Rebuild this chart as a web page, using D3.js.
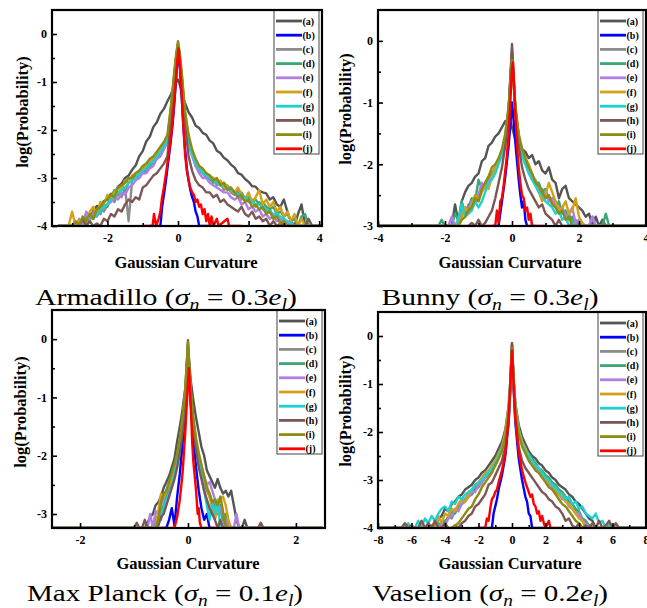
<!DOCTYPE html>
<html>
<head>
<meta charset="utf-8">
<script src="https://cdn.jsdelivr.net/npm/d3@7"></script>
<style>
body { margin: 0; background: #fff; }
svg { display: block; }
</style>
</head>
<body>
<div id="chart"></div>
<script>
const width = 647;
const height = 608;

// Series names and colours (a .. j)
const seriesKeys = ["(a)", "(b)", "(c)", "(d)", "(e)", "(f)", "(g)", "(h)", "(i)", "(j)"];
const seriesColors = ["#545454", "#0000ff", "#8c8c8c", "#3aa872", "#b07ee6", "#d4a017", "#1fd0d0", "#7d5656", "#8c8c12", "#ff0000"];

const xLabel = "Gaussian Curvature";
const yLabel = "log(Probability)";

// ---------- Armadillo ----------
const armXTicks = [-2, 0, 2, 4];
const armXMinor = [-3, -1, 1, 3];
const armYTicks = [-4, -3, -2, -1, 0];
const armYMinor = [-3.5, -2.5, -1.5, -0.5];
const armCaption = [["Armadillo (", ""], ["σ", "i"], ["n", "s"], [" = 0.3", ""], ["e", "i"], ["l", "s"], [")", ""]];

const armX = [
  -3.4, -3.1, -3.0, -2.9, -2.8, -2.7, -2.6, -2.5, -2.4, -2.3,
  -2.2, -2.1, -2.0, -1.9, -1.8, -1.7, -1.6, -1.5, -1.4, -1.3,
  -1.2, -1.1, -1.0, -0.9, -0.8, -0.7, -0.6, -0.5, -0.4, -0.3,
  -0.2, -0.1, -0.05, 0, 0.05, 0.1, 0.2, 0.3, 0.4, 0.5,
  0.6, 0.7, 0.8, 0.9, 1.0, 1.1, 1.2, 1.3, 1.4, 1.5,
  1.6, 1.7, 1.8, 1.9, 2.0, 2.1, 2.2, 2.3, 2.4, 2.5,
  2.6, 2.7, 2.8, 2.9, 3.0, 3.1, 3.2, 3.3, 3.4, 3.5,
  3.6, 3.7, 3.8, 4.1];
const armA = [
  -4, -4, -4, -4, -4, -4, -3.8, -3.85, -3.68, -3.58,
  -3.6, -3.48, -3.44, -3.33, -3.32, -3.18, -3.12, -3.0, -2.95, -2.83,
  -2.74, -2.55, -2.44, -2.24, -2.14, -1.94, -1.84, -1.66, -1.56, -1.4,
  -1.26, -1.07, -1.0, -0.95, -1.05, -1.22, -1.44, -1.63, -1.74, -1.91,
  -1.96, -2.06, -2.1, -2.22, -2.28, -2.43, -2.48, -2.58, -2.63, -2.72,
  -2.78, -2.9, -2.93, -3.02, -3.08, -3.17, -3.18, -3.27, -3.3, -3.32,
  -3.45, -3.4, -3.55, -3.6, -3.45, -3.7, -3.9, -4, -3.75, -3.55,
  -4, -4, -4, -4];
const armB = [[-0.8, -4], [-0.5, -4], [-0.45, -3.6], [-0.4, -3.35], [-0.35, -3.1], [-0.3, -2.8], [-0.25, -2.5],
  [-0.2, -2.2], [-0.15, -1.85], [-0.1, -1.4], [-0.05, -0.9], [0, -0.45], [0.02, -0.35], [0.05, -0.65], [0.1, -1.25],
  [0.15, -1.9], [0.2, -2.4], [0.25, -2.8], [0.3, -3.05], [0.35, -3.25], [0.4, -3.4], [0.45, -3.5], [0.5, -3.7],
  [0.55, -3.8], [0.6, -4], [1.0, -4]];
const armC = [
  -4, -4, -4, -4, -3.9, -4, -3.75, -3.9, -3.7, -3.8,
  -3.6, -3.7, -3.55, -3.4, -3.5, -3.3, -3.4, -3.2, -3.9, -3.05,
  -2.95, -3.0, -2.85, -2.85, -2.7, -2.7, -2.55, -2.5, -2.3, -2.25,
  -1.65, -0.85, -0.5, -0.25, -0.55, -0.9, -1.75, -2.25, -2.5, -2.75,
  -2.85, -2.9, -3.0, -3.05, -3.0, -3.15, -3.1, -3.25, -3.2, -3.3,
  -3.35, -3.25, -3.45, -3.4, -3.5, -3.45, -3.6, -3.5, -3.65, -3.7,
  -3.65, -3.8, -3.75, -3.9, -3.85, -4, -3.9, -4, -4, -4,
  -4, -4, -4, -4];
const armD = [
  -4, -4, -4, -4, -4, -3.9, -4, -3.8, -3.85, -3.7,
  -3.75, -3.55, -3.6, -3.4, -3.25, -3.35, -3.2, -3.25, -3.1, -3.05,
  -3.0, -2.9, -2.9, -2.8, -2.75, -2.65, -2.6, -2.45, -2.4, -2.2,
  -1.6, -0.8, -0.5, -0.22, -0.5, -0.85, -1.7, -2.2, -2.45, -2.65,
  -2.8, -2.85, -2.95, -3.0, -3.1, -3.05, -3.15, -3.1, -3.2, -3.2,
  -3.3, -3.35, -3.3, -3.45, -3.4, -3.5, -3.45, -3.55, -3.5, -3.6,
  -3.65, -3.6, -3.75, -3.7, -3.8, -3.75, -3.9, -3.85, -4, -3.8,
  -3.75, -4, -4, -4];
const armE = [
  -4, -4, -4, -4, -3.85, -4, -3.7, -3.85, -3.75, -3.8,
  -3.7, -3.6, -3.55, -3.5, -3.4, -3.45, -3.3, -3.35, -3.2, -3.15,
  -3.05, -3.0, -2.9, -2.9, -2.8, -2.75, -2.6, -2.55, -2.4, -2.25,
  -1.65, -0.85, -0.5, -0.25, -0.5, -0.9, -1.75, -2.3, -2.55, -2.75,
  -2.9, -3.0, -3.0, -3.1, -3.15, -3.2, -3.25, -3.3, -3.3, -3.4,
  -3.45, -3.4, -3.55, -3.5, -3.65, -3.6, -3.7, -3.65, -3.8, -3.75,
  -3.85, -3.8, -3.9, -3.85, -4, -3.9, -4, -4, -4, -4,
  -4, -4, -4, -4];
const armF = [
  -4, -4, -3.7, -4, -3.9, -3.85, -4, -3.7, -3.6, -3.75,
  -3.5, -3.55, -3.35, -3.45, -3.3, -3.2, -3.25, -3.05, -3.1, -2.95,
  -2.9, -2.85, -2.8, -2.75, -2.65, -2.6, -2.5, -2.4, -2.3, -2.15,
  -1.55, -0.8, -0.45, -0.2, -0.45, -0.8, -1.65, -2.15, -2.45, -2.65,
  -2.75, -2.85, -2.9, -2.95, -3.0, -3.1, -3.05, -3.2, -3.15, -3.25,
  -3.3, -3.2, -3.35, -3.45, -3.3, -3.5, -3.4, -3.25, -3.55, -3.45,
  -3.6, -3.5, -3.7, -3.6, -3.8, -3.7, -3.9, -3.75, -4, -3.85,
  -4, -4, -4, -4];
const armG = [
  -4, -4, -4, -4, -4, -4, -3.9, -3.8, -3.85, -3.75,
  -3.7, -3.6, -3.55, -3.45, -3.4, -3.3, -3.25, -3.2, -3.1, -3.05,
  -3.0, -2.9, -2.85, -2.8, -2.7, -2.65, -2.55, -2.45, -2.35, -2.2,
  -1.6, -0.8, -0.5, -0.22, -0.5, -0.85, -1.7, -2.2, -2.5, -2.7,
  -2.8, -2.9, -2.95, -3.0, -3.05, -3.1, -3.15, -3.15, -3.2, -3.25,
  -3.3, -3.35, -3.35, -3.4, -3.45, -3.5, -3.55, -3.55, -3.6, -3.65,
  -3.7, -3.75, -3.75, -3.8, -3.85, -3.9, -3.95, -4, -4, -4,
  -4, -4, -4, -4];
const armH = [
  -4, -4, -4, -4, -4, -3.85, -4, -3.9, -4, -3.95,
  -4, -3.85, -3.9, -3.75, -3.8, -3.65, -3.7, -3.55, -3.45, -3.5,
  -3.4, -3.45, -3.2, -3.15, -3.05, -2.95, -2.9, -2.8, -2.7, -2.55,
  -1.75, -0.85, -0.5, -0.25, -0.55, -0.95, -1.9, -2.55, -2.85, -3.05,
  -3.15, -3.2, -3.3, -3.3, -3.4, -3.35, -3.5, -3.45, -3.55, -3.6,
  -3.65, -3.7, -3.6, -3.75, -3.8, -3.7, -3.85, -3.8, -3.9, -3.85,
  -4, -3.9, -4, -3.95, -4, -4, -4, -4, -4, -4,
  -4, -3.85, -4, -4];
const armI = [
  -4, -4, -4, -3.9, -4, -3.8, -3.9, -3.75, -3.85, -3.65,
  -3.6, -3.5, -3.45, -3.35, -3.4, -3.2, -3.15, -3.1, -3.0, -3.0,
  -2.9, -2.85, -2.75, -2.7, -2.6, -2.55, -2.45, -2.35, -2.25, -2.1,
  -1.5, -0.75, -0.4, -0.15, -0.4, -0.75, -1.6, -2.1, -2.4, -2.6,
  -2.75, -2.8, -2.9, -2.95, -3.05, -3.0, -3.15, -3.1, -3.25, -3.2,
  -3.3, -3.4, -3.35, -3.5, -3.45, -3.6, -3.55, -3.65, -3.6, -3.75,
  -3.7, -3.85, -3.8, -3.95, -3.9, -4, -4, -4, -4, -4,
  -4, -4, -4, -4];
const armJ = [[-1.0, -4], [-0.72, -4], [-0.68, -3.75], [-0.62, -4], [-0.55, -3.85], [-0.5, -3.7], [-0.45, -3.4],
  [-0.4, -3.2], [-0.35, -2.95], [-0.3, -2.7], [-0.25, -2.45], [-0.2, -2.15], [-0.15, -1.8], [-0.1, -1.35],
  [-0.05, -0.85], [0, -0.4], [0.02, -0.3], [0.05, -0.6], [0.1, -1.2], [0.15, -1.9], [0.2, -2.5], [0.25, -2.85],
  [0.3, -3.05], [0.35, -3.2], [0.4, -3.3], [0.45, -3.35], [0.5, -3.5], [0.55, -3.45], [0.6, -3.6], [0.65, -3.55],
  [0.7, -3.75], [0.75, -3.65], [0.8, -3.9], [0.85, -3.75], [0.9, -4], [0.95, -3.8], [1.0, -4], [1.1, -3.85],
  [1.15, -4], [1.4, -3.85], [1.45, -4], [1.8, -4]];

// ---------- Bunny ----------
const bunXTicks = [-4, -2, 0, 2, 4];
const bunXMinor = [-3, -1, 1, 3];
const bunYTicks = [-3, -2, -1, 0];
const bunYMinor = [-2.5, -1.5, -0.5];
const bunCaption = [["Bunny (", ""], ["σ", "i"], ["n", "s"], [" = 0.3", ""], ["e", "i"], ["l", "s"], [")", ""]];

const bunX = [
  -4.0, -2.4, -2.3, -2.2, -2.1, -2.0, -1.9, -1.8, -1.7, -1.6,
  -1.5, -1.4, -1.3, -1.2, -1.1, -1.0, -0.9, -0.8, -0.7, -0.6,
  -0.5, -0.4, -0.3, -0.2, -0.1, -0.05, 0, 0.05, 0.1, 0.2,
  0.3, 0.4, 0.5, 0.6, 0.7, 0.8, 0.9, 1.0, 1.1, 1.2,
  1.3, 1.4, 1.5, 1.6, 1.7, 1.8, 1.9, 2.0, 2.1, 2.2,
  2.3, 2.4, 2.5, 2.6, 2.7, 2.8, 2.9, 3.0, 3.1, 4.0];
const bunA = [
  -3, -3, -3, -3, -3, -3, -3, -3, -2.65, -2.95,
  -2.6, -2.45, -2.35, -2.3, -2.2, -2.15, -1.95, -1.9, -1.7, -1.65,
  -1.55, -1.5, -1.4, -1.3, -1.35, -1.3, -1.4, -1.5, -1.6, -1.65,
  -1.75, -1.8, -1.9, -1.85, -2.0, -1.95, -2.1, -2.15, -2.05, -2.25,
  -2.3, -2.55, -2.4, -2.35, -2.55, -2.6, -2.65, -2.7, -2.75, -2.85,
  -2.8, -3.0, -2.85, -3.0, -2.9, -3.0, -3.0, -3.0, -3.0, -3.0];
const bunB = [[-0.6, -3], [-0.4, -3], [-0.35, -2.8], [-0.3, -2.6], [-0.25, -2.4], [-0.2, -2.2], [-0.15, -1.95],
  [-0.1, -1.7], [-0.05, -1.35], [0, -1.0], [0.05, -1.3], [0.1, -1.65], [0.15, -1.95], [0.2, -2.25], [0.25, -2.5],
  [0.3, -2.7], [0.35, -2.6], [0.4, -2.9], [0.45, -3], [0.7, -3]];
const bunC = [
  -3, -3, -3, -3, -3, -3, -3, -3, -3, -2.9,
  -2.75, -2.8, -2.65, -2.65, -2.5, -2.5, -2.35, -2.4, -2.25, -2.2,
  -2.1, -1.95, -1.8, -1.55, -1.1, -0.65, -0.15, -0.65, -1.1, -1.55,
  -1.8, -1.95, -2.1, -2.2, -2.25, -2.4, -2.4, -2.55, -2.5, -2.65,
  -2.6, -2.75, -2.7, -2.85, -2.8, -2.95, -2.9, -3, -3, -3,
  -3, -3, -3, -3, -3, -3, -3, -3, -3, -3];
const bunD = [
  -3, -3, -3, -3, -2.9, -3, -3, -3, -2.8, -2.9,
  -2.6, -2.8, -2.7, -2.55, -2.6, -2.25, -2.4, -2.3, -2.2, -2.15,
  -2.05, -1.95, -1.8, -1.55, -1.1, -0.6, -0.2, -0.6, -1.05, -1.55,
  -1.8, -1.95, -2.1, -2.15, -2.3, -2.3, -2.45, -2.4, -2.6, -2.55,
  -2.7, -2.6, -2.8, -2.75, -2.9, -2.85, -3, -2.9, -3, -3,
  -3, -2.85, -3, -3, -3, -2.8, -3, -3, -3, -3];
const bunE = [
  -3, -3, -3, -3, -3, -3, -3, -2.85, -3, -2.9,
  -2.8, -2.7, -2.75, -2.6, -2.6, -2.5, -2.3, -2.4, -2.3, -2.2,
  -2.1, -1.95, -1.8, -1.6, -1.15, -0.65, -0.2, -0.65, -1.15, -1.6,
  -1.85, -2.0, -2.1, -2.25, -2.3, -2.4, -2.5, -2.45, -2.6, -2.55,
  -2.7, -2.75, -2.7, -2.85, -2.8, -2.7, -2.95, -2.9, -3, -3,
  -3, -2.85, -3, -3, -3, -3, -3, -3, -3, -3];
const bunF = [
  -3, -3, -3, -3, -3, -3, -3, -3, -3, -2.95,
  -2.85, -2.7, -2.8, -2.65, -2.5, -2.6, -2.45, -2.35, -2.4, -2.2,
  -2.05, -1.95, -1.8, -1.55, -1.1, -0.65, -0.25, -0.7, -1.1, -1.55,
  -1.75, -1.9, -2.0, -2.15, -2.3, -2.45, -2.6, -2.5, -2.3, -2.45,
  -2.6, -2.75, -2.7, -2.6, -2.8, -2.75, -2.55, -2.85, -2.95, -3,
  -3, -3, -3, -3, -3, -3, -3, -3, -3, -3];
const bunG = [
  -3, -3, -3, -3, -3, -3, -3, -3, -3, -2.9,
  -2.65, -2.85, -2.8, -2.75, -2.6, -2.7, -2.6, -2.45, -2.3, -2.25,
  -2.15, -2.0, -1.85, -1.6, -1.15, -0.65, -0.2, -0.65, -1.15, -1.6,
  -1.85, -2.0, -2.15, -2.25, -2.35, -2.45, -2.5, -2.6, -2.65, -2.7,
  -2.8, -2.75, -2.9, -2.85, -3, -2.95, -3, -3, -3, -3,
  -3, -3, -3, -3, -3, -3, -3, -3, -3, -3];
const bunH = [
  -3, -3, -3, -3, -3, -3, -3, -3, -3, -3,
  -3, -3, -3, -2.95, -3, -2.9, -3, -2.95, -2.85, -2.75,
  -2.55, -2.3, -2.05, -1.7, -1.15, -0.6, -0.05, -0.6, -1.15, -1.7,
  -2.05, -2.25, -2.4, -2.5, -2.6, -2.7, -2.65, -2.8, -2.85, -2.9,
  -3, -2.9, -3, -3, -3, -3, -3, -3, -3, -3,
  -3, -3, -3, -3, -3, -3, -3, -3, -3, -3];
const bunI = [
  -3, -3, -3, -3, -3, -3, -3, -3, -3, -3,
  -2.9, -2.85, -2.75, -2.7, -2.55, -2.6, -2.4, -2.3, -2.2, -2.05,
  -2.0, -1.9, -1.75, -1.5, -1.05, -0.7, -0.3, -0.7, -1.05, -1.5,
  -1.75, -1.9, -2.05, -2.15, -2.3, -2.35, -2.45, -2.55, -2.5, -2.65,
  -2.7, -2.8, -2.75, -2.9, -2.85, -3, -3, -3, -3, -3,
  -3, -3, -3, -3, -3, -3, -3, -3, -3, -3];
const bunJ = [[-0.8, -3], [-0.5, -3], [-0.45, -2.75], [-0.4, -2.95], [-0.35, -2.6], [-0.3, -2.55], [-0.25, -2.35],
  [-0.2, -2.1], [-0.15, -1.85], [-0.1, -1.5], [-0.05, -1.0], [0, -0.45], [0.03, -0.35], [0.07, -0.8], [0.1, -1.2],
  [0.15, -1.7], [0.2, -2.05], [0.25, -2.3], [0.3, -2.5], [0.35, -2.55], [0.4, -2.75], [0.45, -2.7], [0.5, -2.9],
  [0.55, -2.8], [0.6, -3], [1.0, -3]];

// ---------- Max Planck ----------
const mpXTicks = [-2, 0, 2];
const mpXMinor = [-1, 1];
const mpYTicks = [-3, -2, -1, 0];
const mpYMinor = [-2.5, -1.5, -0.5];
const mpCaption = [["Max Planck (", ""], ["σ", "i"], ["n", "s"], [" = 0.1", ""], ["e", "i"], ["l", "s"], [")", ""]];

const mpX = [
  -2.5, -1.0, -0.95, -0.9, -0.85, -0.8, -0.75, -0.7, -0.65, -0.6,
  -0.55, -0.5, -0.45, -0.4, -0.35, -0.3, -0.25, -0.2, -0.15, -0.1,
  -0.05, 0, 0.05, 0.1, 0.15, 0.2, 0.25, 0.3, 0.35, 0.4,
  0.45, 0.5, 0.55, 0.6, 0.65, 0.7, 0.75, 0.8, 0.85, 0.9,
  0.95, 1.0, 1.05, 1.1, 1.15, 1.2, 1.25, 1.3, 1.35, 1.4,
  1.45, 2.5];
const mpA = [
  -3.3, -3.3, -3.3, -3.3, -3.3, -3.3, -3.15, -3.05, -3.0, -2.85,
  -2.8, -2.7, -2.55, -2.45, -2.35, -2.2, -2.05, -1.75, -1.5, -1.2,
  -0.85, -0.1, -0.7, -1.05, -1.35, -1.6, -1.85, -2.0, -2.25, -2.35,
  -2.45, -2.55, -2.4, -2.55, -2.65, -2.6, -2.7, -2.6, -2.85, -3.1,
  -3.3, -3.3, -3.1, -3.3, -3.3, -3.3, -3.3, -3.3, -3.3, -3.3,
  -3.3, -3.3];
const mpB = [[-0.6, -3.3], [-0.4, -3.3], [-0.35, -3.1], [-0.3, -2.9], [-0.25, -3.2], [-0.2, -2.7], [-0.15, -2.3],
  [-0.1, -1.8], [-0.05, -1.2], [0, -0.5], [0.05, -1.1], [0.1, -1.7], [0.15, -2.2], [0.2, -2.6], [0.25, -2.9],
  [0.3, -3.1], [0.35, -3.0], [0.4, -3.3], [0.7, -3.3]];
const mpC = [
  -3.3, -3.3, -3.3, -3.3, -3.3, -3.3, -3.3, -3.3, -3.3, -3.15,
  -3.0, -3.1, -2.9, -2.75, -2.6, -2.45, -2.3, -2.1, -1.85, -1.5,
  -1.0, -0.1, -0.95, -1.45, -1.8, -2.05, -2.25, -2.45, -2.6, -2.7,
  -2.85, -2.8, -3.0, -2.95, -3.1, -3.3, -3.3, -3.3, -3.3, -3.3,
  -3.3, -3.3, -3.3, -3.3, -3.3, -3.3, -3.3, -3.3, -3.3, -3.3,
  -3.3, -3.3];
const mpD = [
  -3.3, -3.3, -3.3, -3.3, -3.3, -3.3, -3.3, -3.3, -3.2, -3.05,
  -3.1, -2.95, -2.85, -2.7, -2.6, -2.4, -2.25, -2.05, -1.8, -1.45,
  -0.95, -0.2, -0.9, -1.4, -1.75, -2.0, -2.2, -2.4, -2.55, -2.65,
  -2.8, -2.9, -3.0, -2.85, -3.1, -3.0, -3.3, -3.3, -3.3, -3.3,
  -3.3, -3.3, -3.3, -3.3, -3.3, -3.3, -3.3, -3.3, -3.3, -3.3,
  -3.3, -3.3];
const mpE = [
  -3.3, -3.3, -3.3, -3.3, -3.3, -3.3, -3.3, -3.0, -3.3, -2.95,
  -3.0, -2.85, -2.75, -2.6, -2.45, -2.4, -2.25, -2.05, -1.8, -1.45,
  -0.95, -0.25, -0.95, -1.45, -1.75, -2.0, -2.2, -2.35, -2.5, -2.45,
  -2.6, -2.75, -2.85, -2.9, -3.0, -3.1, -3.3, -3.3, -3.3, -3.0,
  -3.3, -3.3, -3.3, -3.3, -3.3, -3.3, -3.3, -3.3, -3.3, -3.3,
  -3.3, -3.3];
const mpF = [
  -3.3, -3.3, -3.3, -3.3, -3.3, -3.3, -3.3, -3.3, -3.3, -3.3,
  -2.95, -2.65, -2.7, -2.6, -2.5, -2.4, -2.25, -2.0, -1.75, -1.4,
  -0.9, -0.2, -0.9, -1.4, -1.75, -2.0, -2.25, -2.45, -2.5, -2.7,
  -2.9, -3.1, -2.9, -2.75, -2.7, -2.85, -3.1, -3.3, -3.3, -3.3,
  -3.3, -3.3, -3.3, -3.3, -3.3, -3.3, -3.3, -3.3, -3.3, -3.3,
  -3.3, -3.3];
const mpG = [
  -3.3, -3.3, -3.3, -3.3, -3.3, -3.3, -3.3, -3.3, -3.3, -3.3,
  -3.2, -3.0, -2.9, -2.75, -2.65, -2.5, -2.3, -2.1, -1.85, -1.5,
  -1.0, -0.2, -0.95, -1.45, -1.8, -2.1, -2.35, -2.6, -2.85, -3.1,
  -2.8, -3.0, -2.75, -3.3, -3.3, -3.3, -3.3, -3.3, -3.3, -3.3,
  -3.3, -3.3, -3.3, -3.3, -3.3, -3.3, -3.3, -3.3, -3.3, -3.3,
  -3.3, -3.3];
const mpH = [
  -3.3, -3.3, -3.15, -3.3, -3.3, -3.1, -3.3, -3.3, -3.3, -3.3,
  -3.2, -3.05, -3.0, -2.85, -2.7, -2.55, -2.4, -2.2, -1.95, -1.6,
  -1.1, -0.02, -1.05, -1.55, -1.9, -2.2, -2.4, -2.6, -2.75, -2.9,
  -3.0, -3.1, -3.3, -3.1, -3.3, -3.3, -3.3, -3.3, -3.3, -3.3,
  -3.3, -3.3, -3.3, -3.3, -3.3, -3.3, -3.3, -3.3, -3.15, -3.3,
  -3.3, -3.3];
const mpI = [
  -3.3, -3.3, -3.3, -3.3, -3.3, -3.3, -3.3, -3.3, -3.3, -3.3,
  -3.1, -2.8, -2.65, -2.6, -2.45, -2.3, -2.15, -1.95, -1.7, -1.35,
  -0.85, -0.05, -0.85, -1.35, -1.7, -1.95, -2.15, -2.35, -2.55, -2.65,
  -2.8, -2.75, -2.85, -2.7, -2.95, -3.2, -3.3, -3.3, -3.3, -3.3,
  -3.3, -3.3, -3.3, -3.3, -3.3, -3.3, -3.3, -3.3, -3.3, -3.3,
  -3.3, -3.3];
const mpJ = [[-0.5, -3.3], [-0.25, -3.3], [-0.2, -3.05], [-0.15, -2.75], [-0.1, -2.3], [-0.05, -1.6], [0, -0.75],
  [0.02, -0.5], [0.05, -1.1], [0.08, -1.8], [0.1, -2.1], [0.15, -2.6], [0.18, -3.0], [0.2, -2.9], [0.22, -3.15],
  [0.25, -3.3], [0.5, -3.3]];

// ---------- Vaselion ----------
const vasXTicks = [-8, -6, -4, -2, 0, 2, 4, 6, 8];
const vasXMinor = [-7, -5, -3, -1, 1, 3, 5, 7];
const vasYTicks = [-4, -3, -2, -1, 0];
const vasYMinor = [-3.5, -2.5, -1.5, -0.5];
const vasCaption = [["Vaselion (", ""], ["σ", "i"], ["n", "s"], [" = 0.2", ""], ["e", "i"], ["l", "s"], [")", ""]];

const vasX = [
  -8, -6.6, -6.4, -6.2, -6.0, -5.8, -5.6, -5.4, -5.2, -5.0,
  -4.8, -4.6, -4.4, -4.2, -4.0, -3.8, -3.6, -3.4, -3.2, -3.0,
  -2.8, -2.6, -2.4, -2.2, -2.0, -1.8, -1.6, -1.4, -1.2, -1.0,
  -0.8, -0.6, -0.4, -0.2, -0.1, 0, 0.1, 0.2, 0.4, 0.6,
  0.8, 1.0, 1.2, 1.4, 1.6, 1.8, 2.0, 2.2, 2.4, 2.6,
  2.8, 3.0, 3.2, 3.4, 3.6, 3.8, 4.0, 4.2, 4.4, 4.6,
  4.8, 5.0, 5.2, 5.4, 5.6, 5.8, 6.0, 6.2, 6.4, 8];
const vasA = [
  -4, -4, -4, -4, -4, -4, -4, -4, -4, -4,
  -3.95, -4, -3.8, -3.75, -3.6, -3.65, -3.5, -3.45, -3.35, -3.3,
  -3.2, -3.15, -3.1, -3.0, -2.95, -2.85, -2.8, -2.7, -2.6, -2.5,
  -2.35, -2.2, -1.95, -1.45, -0.95, -0.15, -0.9, -1.4, -1.85, -2.1,
  -2.25, -2.4, -2.5, -2.55, -2.65, -2.7, -2.8, -2.85, -2.95, -3.0,
  -3.1, -3.15, -3.2, -3.3, -3.35, -3.45, -3.5, -3.6, -3.7, -3.8,
  -3.85, -4, -4, -4, -4, -4, -4, -4, -4, -4];
const vasB = [[-2, -4], [-1.2, -4], [-1.1, -3.7], [-1.0, -3.55], [-0.9, -3.4], [-0.8, -3.2], [-0.6, -2.9],
  [-0.4, -2.5], [-0.2, -1.8], [-0.1, -1.1], [0, -0.3], [0.1, -1.1], [0.2, -1.8], [0.4, -2.55], [0.6, -3.0],
  [0.8, -3.35], [0.9, -3.45], [1.0, -3.7], [1.1, -3.75], [1.2, -4], [2, -4]];
const vasC = [
  -4, -4, -4, -4, -4, -4, -4, -4, -4, -4,
  -4, -3.95, -4, -3.85, -3.9, -3.75, -3.8, -3.65, -3.6, -3.5,
  -3.45, -3.35, -3.3, -3.2, -3.15, -3.05, -2.95, -2.9, -2.75, -2.7,
  -2.55, -2.35, -2.1, -1.6, -1.0, -0.2, -0.95, -1.5, -2.0, -2.25,
  -2.4, -2.55, -2.6, -2.75, -2.8, -2.95, -3.0, -3.1, -3.1, -3.25,
  -3.3, -3.35, -3.45, -3.5, -3.6, -3.65, -3.75, -3.8, -3.9, -3.95,
  -4, -4, -4, -4, -4, -4, -4, -4, -4, -4];
const vasD = [
  -4, -4, -4, -4, -4, -4, -4, -4, -4, -4,
  -4, -4, -3.9, -4, -3.85, -3.8, -3.65, -3.7, -3.55, -3.5,
  -3.4, -3.3, -3.3, -3.15, -3.1, -3.0, -2.9, -2.85, -2.7, -2.6,
  -2.45, -2.3, -2.05, -1.55, -1.0, -0.2, -0.95, -1.45, -1.95, -2.2,
  -2.35, -2.45, -2.55, -2.65, -2.75, -2.8, -2.9, -2.95, -3.05, -3.1,
  -3.2, -3.25, -3.35, -3.45, -3.5, -3.6, -3.65, -3.8, -3.85, -3.95,
  -4, -4, -4, -4, -4, -4, -4, -4, -4, -4];
const vasE = [
  -4, -4, -4, -4, -4, -4, -4, -4, -4, -4,
  -4, -4, -4, -3.9, -3.95, -3.8, -3.75, -3.6, -3.65, -3.5,
  -3.45, -3.35, -3.25, -3.25, -3.1, -3.05, -2.95, -2.85, -2.8, -2.65,
  -2.5, -2.35, -2.1, -1.6, -1.05, -0.2, -1.0, -1.5, -2.0, -2.25,
  -2.4, -2.5, -2.65, -2.7, -2.85, -2.9, -3.0, -3.05, -3.15, -3.2,
  -3.3, -3.4, -3.4, -3.55, -3.6, -3.7, -3.7, -3.85, -3.9, -4,
  -4, -4, -4, -4, -4, -4, -4, -4, -4, -4];
const vasF = [
  -4, -4, -4, -4, -4, -4, -4, -4, -4, -4,
  -4, -4, -3.75, -3.9, -3.7, -3.75, -3.6, -3.65, -3.5, -3.4,
  -3.45, -3.3, -3.2, -3.1, -3.05, -2.95, -2.85, -2.8, -2.7, -2.6,
  -2.45, -2.3, -2.0, -1.5, -0.95, -0.2, -0.95, -1.45, -1.95, -2.2,
  -2.35, -2.5, -2.6, -2.7, -2.75, -2.9, -2.95, -3.05, -3.1, -3.2,
  -3.3, -3.35, -3.45, -3.5, -3.6, -3.7, -3.8, -3.85, -4, -4,
  -4, -4, -4, -4, -4, -4, -4, -4, -4, -4];
const vasG = [
  -4, -4, -4, -3.9, -4, -4, -3.85, -4, -3.8, -3.9,
  -3.75, -3.85, -3.7, -3.6, -3.55, -3.65, -3.45, -3.5, -3.35, -3.4,
  -3.3, -3.25, -3.2, -3.1, -3.05, -3.0, -2.9, -2.85, -2.75, -2.65,
  -2.5, -2.35, -2.1, -1.6, -1.0, -0.2, -1.0, -1.5, -2.0, -2.25,
  -2.4, -2.5, -2.6, -2.7, -2.75, -2.85, -2.95, -3.0, -3.1, -3.15,
  -3.25, -3.3, -3.4, -3.35, -3.5, -3.45, -3.6, -3.55, -3.7, -3.75,
  -3.8, -3.7, -3.9, -3.85, -4, -3.9, -4, -4, -4, -4];
const vasH = [
  -4, -4, -3.9, -4, -3.95, -4, -4, -3.85, -4, -3.9,
  -4, -3.85, -4, -4, -3.9, -4, -4, -3.95, -4, -3.9,
  -3.85, -3.75, -3.7, -3.55, -3.5, -3.4, -3.3, -3.1, -3.05, -2.9,
  -2.75, -2.6, -2.3, -1.8, -1.1, -0.15, -1.1, -1.75, -2.3, -2.6,
  -2.75, -2.85, -2.95, -3.05, -3.15, -3.25, -3.3, -3.4, -3.45, -3.55,
  -3.6, -3.7, -3.85, -3.8, -3.95, -4, -3.9, -4, -3.95, -4,
  -3.9, -4, -3.85, -4, -3.95, -3.85, -4, -3.9, -4, -4];
const vasI = [
  -4, -4, -4, -4, -4, -4, -4, -4, -4, -4,
  -4, -4, -4, -4, -4, -4, -4, -3.95, -3.9, -3.8,
  -3.7, -3.6, -3.55, -3.4, -3.3, -3.15, -3.05, -2.95, -2.85, -2.7,
  -2.55, -2.4, -2.1, -1.6, -1.05, -0.25, -1.0, -1.55, -2.05, -2.3,
  -2.45, -2.6, -2.7, -2.8, -2.85, -2.95, -3.05, -3.15, -3.2, -3.3,
  -3.4, -3.5, -3.55, -3.65, -3.75, -3.85, -3.9, -4, -4, -4,
  -4, -4, -4, -4, -4, -4, -4, -4, -4, -4];
const vasJ = [[-2.2, -4], [-1.6, -4], [-1.5, -3.8], [-1.4, -3.85], [-1.3, -3.6], [-1.2, -3.4], [-1.1, -3.35],
  [-1.0, -3.25], [-0.9, -3.2], [-0.8, -3.05], [-0.6, -2.8], [-0.4, -2.45], [-0.2, -1.7], [-0.1, -1.0], [0, -0.3],
  [0.1, -1.0], [0.2, -1.7], [0.4, -2.4], [0.6, -2.8], [0.8, -3.05], [1.0, -3.25], [1.1, -3.35], [1.2, -3.3],
  [1.3, -3.5], [1.4, -3.55], [1.5, -3.7], [1.6, -3.65], [1.7, -3.85], [1.8, -3.75], [1.9, -3.9], [2.0, -4],
  [2.2, -3.85], [2.3, -4], [3, -4]];

// Pair a shared x grid with one series' values
function onGrid(xs, ys) {
  if (xs.length !== ys.length) console.warn("length mismatch", xs.length, ys.length);
  return xs.map((x, i) => [x, ys[i]]).filter(d => d[1] !== undefined);
}

const panels = [
  { frame: {l: 52, r: 322, t: 10, b: 226}, xDomain: [-3.57, 4.08], yDomain: [-4, 0.5],
    xTicks: armXTicks, xMinor: armXMinor, yTicks: armYTicks, yMinor: armYMinor,
    series: [onGrid(armX, armA), armB, onGrid(armX, armC), onGrid(armX, armD), onGrid(armX, armE),
             onGrid(armX, armF), onGrid(armX, armG), onGrid(armX, armH), onGrid(armX, armI), armJ],
    caption: armCaption, cap: {x: 166, y: 305, w: 262}, xl: {x: 186, y: 268}, yl: {x: 22, y: 112} },
  { frame: {l: 378, r: 646, t: 10, b: 226}, xDomain: [-4, 4], yDomain: [-3, 0.5],
    xTicks: bunXTicks, xMinor: bunXMinor, yTicks: bunYTicks, yMinor: bunYMinor,
    series: [onGrid(bunX, bunA), bunB, onGrid(bunX, bunC), onGrid(bunX, bunD), onGrid(bunX, bunE),
             onGrid(bunX, bunF), onGrid(bunX, bunG), onGrid(bunX, bunH), onGrid(bunX, bunI), bunJ],
    caption: bunCaption, cap: {x: 490, y: 305, w: 217}, xl: {x: 510, y: 268}, yl: {x: 345, y: 109} },
  { frame: {l: 52, r: 325, t: 310, b: 528}, xDomain: [-2.52, 2.54], yDomain: [-3.24, 0.5],
    xTicks: mpXTicks, xMinor: mpXMinor, yTicks: mpYTicks, yMinor: mpYMinor,
    series: [onGrid(mpX, mpA), mpB, onGrid(mpX, mpC), onGrid(mpX, mpD), onGrid(mpX, mpE),
             onGrid(mpX, mpF), onGrid(mpX, mpG), onGrid(mpX, mpH), onGrid(mpX, mpI), mpJ],
    caption: mpCaption, cap: {x: 165, y: 601, w: 276}, xl: {x: 188, y: 569}, yl: {x: 20, y: 412} },
  { frame: {l: 378, r: 646, t: 312, b: 528}, xDomain: [-8, 8], yDomain: [-4, 0.5],
    xTicks: vasXTicks, xMinor: vasXMinor, yTicks: vasYTicks, yMinor: vasYMinor,
    series: [onGrid(vasX, vasA), vasB, onGrid(vasX, vasC), onGrid(vasX, vasD), onGrid(vasX, vasE),
             onGrid(vasX, vasF), onGrid(vasX, vasG), onGrid(vasX, vasH), onGrid(vasX, vasI), vasJ],
    caption: vasCaption, cap: {x: 490, y: 601, w: 236}, xl: {x: 510, y: 569}, yl: {x: 345, y: 411} }
];

const svg = d3.select("#chart").append("svg")
  .attr("width", width)
  .attr("height", height)
  .style("background", "#fff");

const boldFont = "'Liberation Serif', 'Times New Roman', serif";

panels.forEach((p, pi) => {
  const f = p.frame;
  const x = d3.scaleLinear().domain(p.xDomain).range([f.l, f.r]);
  const y = d3.scaleLinear().domain(p.yDomain).range([f.b, f.t]);
  const g = svg.append("g");

  svg.append("clipPath").attr("id", "clip" + pi)
    .append("rect").attr("x", f.l).attr("y", f.t).attr("width", f.r - f.l).attr("height", f.b - f.t);

  const line = d3.line()
    .x(d => x(d[0]))
    .y(d => y(Math.max(d[1], p.yDomain[0])));

  // curves, (a) at the bottom, (j) on top
  g.append("g").attr("clip-path", `url(#clip${pi})`)
    .selectAll("path")
    .data(p.series)
    .join("path")
    .attr("d", line)
    .attr("fill", "none")
    .attr("stroke", (d, i) => seriesColors[i])
    .attr("stroke-width", 2.4)
    .attr("stroke-linejoin", "round");

  // legend
  const boxL = f.r - 48, boxR = f.r - 3;
  const lg = g.append("g");
  lg.append("rect")
    .attr("x", boxL).attr("y", f.t).attr("width", boxR - boxL).attr("height", 144)
    .attr("fill", "#fff").attr("stroke", "#444").attr("stroke-width", 1);
  const items = lg.selectAll("g.item").data(seriesKeys).join("g")
    .attr("class", "item")
    .attr("transform", (d, i) => `translate(0,${f.t + 11 + i * 14.2})`);
  items.append("line")
    .attr("x1", boxL + 2).attr("x2", boxL + 28)
    .attr("stroke", (d, i) => seriesColors[i]).attr("stroke-width", 2.8);
  items.append("text")
    .attr("x", boxL + 28.5).attr("dy", "0.35em")
    .attr("font-family", boldFont).attr("font-weight", "bold").attr("font-size", 10)
    .text(d => d);

  // axes, ticks pointing inward
  const fmt = d => String(d);
  const xa = g.append("g").attr("transform", `translate(0,${f.b})`)
    .call(d3.axisBottom(x).tickValues(p.xTicks).tickSize(-5).tickPadding(7.5).tickFormat(fmt));
  const xm = g.append("g").attr("transform", `translate(0,${f.b})`)
    .call(d3.axisBottom(x).tickValues(p.xMinor).tickSize(-3).tickFormat(""));
  const ya = g.append("g").attr("transform", `translate(${f.l},0)`)
    .call(d3.axisLeft(y).tickValues(p.yTicks).tickSize(-5).tickPadding(5).tickFormat(fmt));
  const ym = g.append("g").attr("transform", `translate(${f.l},0)`)
    .call(d3.axisLeft(y).tickValues(p.yMinor).tickSize(-3).tickFormat(""));
  [xa, xm, ya, ym].forEach(a => {
    a.select(".domain").remove();
    a.attr("font-family", boldFont).attr("font-size", 12).attr("font-weight", "bold");
    a.selectAll(".tick line").attr("stroke", "#000").attr("stroke-width", 1.6);
  });

  // frame
  g.append("rect")
    .attr("x", f.l).attr("y", f.t).attr("width", f.r - f.l).attr("height", f.b - f.t)
    .attr("fill", "none").attr("stroke", "#000").attr("stroke-width", 2.2);

  // axis titles
  g.append("text")
    .attr("x", p.xl.x).attr("y", p.xl.y)
    .attr("text-anchor", "middle")
    .attr("font-family", boldFont).attr("font-weight", "bold").attr("font-size", 16.5)
    .text(xLabel);
  g.append("text")
    .attr("transform", `translate(${p.yl.x},${p.yl.y}) rotate(-90)`)
    .attr("dy", "0.35em")
    .attr("text-anchor", "middle")
    .attr("font-family", boldFont).attr("font-weight", "bold").attr("font-size", 16.5)
    .text(yLabel);

  // caption below the panel
  const cap = g.append("text")
    .attr("x", p.cap.x).attr("y", p.cap.y)
    .attr("text-anchor", "middle")
    .attr("font-family", boldFont).attr("font-size", 24)
    .attr("textLength", p.cap.w).attr("lengthAdjust", "spacingAndGlyphs");
  let shifted = false;
  p.caption.forEach(([txt, style]) => {
    const t = cap.append("tspan").text(txt);
    if (style === "i" || style === "s") t.attr("font-style", "italic");
    if (style === "s") {
      t.attr("font-size", 16).attr("dy", 5);
      shifted = true;
    } else if (shifted) {
      t.attr("dy", -5);
      shifted = false;
    }
  });
});
</script>
</body>
</html>
